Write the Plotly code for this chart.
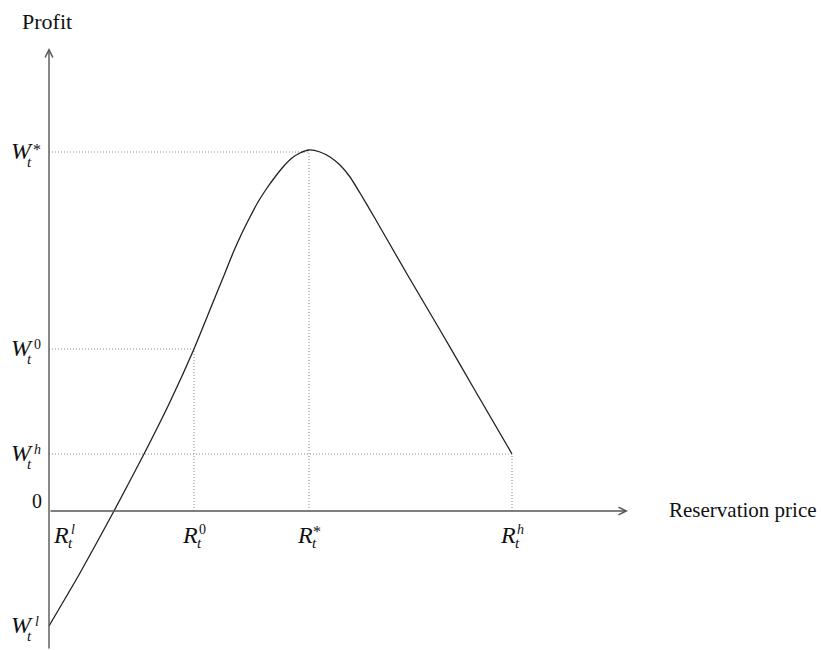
import plotly.graph_objects as go

# ---- data (arbitrary units) ----
curve_x = [0, 31, 65, 95, 120, 145, 169, 176, 184, 193, 201, 209, 218, 226, 234, 243, 251, 260,
           271, 281, 291, 301, 311, 324, 358, 391, 424, 463]
curve_y = [-115, -62, 0, 57, 107, 162, 221, 238, 258, 278, 294, 309, 323, 334, 344, 353, 358, 361,
           359, 354, 346, 334, 318, 296, 237, 181, 124, 57]

# marked reservation prices and profits
R_names = ["l", "0", "*", "h"]
R_vals = [0, 145, 260, 463]
W_names = ["*", "0", "h", "l"]
W_vals = [359, 162, 57, -115]

# guide pairs (R, W) drawn as dotted lines
guide_R = [145, 260, 463]
guide_W = [162, 359, 57]

x_axis_end = 579
y_axis_bottom, y_axis_top = -139, 463

FONT = "Liberation Serif"
AX_COL = "#555555"
CURVE_COL = "#222222"
DOT_COL = "#8a8a8a"

fig = go.Figure()

# dotted guides
for r, w in zip(guide_R, guide_W):
    fig.add_trace(go.Scatter(x=[0, r], y=[w, w], mode="lines",
                             line=dict(color=DOT_COL, width=1, dash="1px,2px"),
                             hoverinfo="skip", showlegend=False))
    fig.add_trace(go.Scatter(x=[r, r], y=[0, w], mode="lines",
                             line=dict(color=DOT_COL, width=1, dash="1px,2px"),
                             hoverinfo="skip", showlegend=False))

# profit curve
fig.add_trace(go.Scatter(x=curve_x, y=curve_y, mode="lines",
                         line=dict(color=CURVE_COL, width=1.3, shape="spline", smoothing=0.6),
                         hoverinfo="skip", showlegend=False))

ann = []
# axes with arrows
ann.append(dict(x=0, y=y_axis_top, ax=0, ay=y_axis_bottom, xref="x", yref="y",
                axref="x", ayref="y", text="", showarrow=True, arrowhead=5,
                arrowsize=1.1, arrowwidth=1.4, arrowcolor=AX_COL))
ann.append(dict(x=x_axis_end, y=0, ax=0, ay=0, xref="x", yref="y",
                axref="x", ayref="y", text="", showarrow=True, arrowhead=5,
                arrowsize=1.1, arrowwidth=1.4, arrowcolor=AX_COL))

def txt(x, y, t, size, xs=0, ys=0, xanchor="center", italic=False):
    s = f"<i>{t}</i>" if italic else t
    ann.append(dict(x=x, y=y, xref="x", yref="y", text=s, showarrow=False,
                    xanchor=xanchor, yanchor="middle", xshift=xs, yshift=ys,
                    font=dict(family=FONT, size=size, color="#111111")))

# W labels on the profit axis
for n, w in zip(W_names, W_vals):
    txt(0, w, "W", 24, xs=-27, ys=1, italic=True)
    txt(0, w, "t", 15, xs=-20, ys=-10, italic=True)
    txt(0, w, n, 14 if n != "*" else 16, xs=-12, ys=5 if n != "*" else 3, italic=(n in "lh"))

# R labels under the price axis
for n, r in zip(R_names, R_vals):
    off = 16 if r == R_vals[0] else 0
    txt(r, 0, "R", 24, xs=off - 4, ys=-24, italic=True)
    txt(r, 0, "t", 15, xs=off + 5, ys=-32, italic=True)
    txt(r, 0, n, 14 if n != "*" else 16, xs=off + 8, ys=-18 if n != "*" else -20, italic=(n in "lh"))

txt(0, 0, "0", 20, xs=-12, ys=10)
txt(0, y_axis_top, "Profit", 22, xs=-2, ys=27)
txt(x_axis_end, 0, "Reservation price", 21, xs=39, ys=1, xanchor="left")

fig.update_layout(
    width=822, height=650,
    margin=dict(l=0, r=0, t=0, b=0),
    paper_bgcolor="white", plot_bgcolor="white",
    xaxis=dict(range=[-49, 773], visible=False, fixedrange=True),
    yaxis=dict(range=[-139, 511], visible=False, fixedrange=True),
    annotations=ann,
    showlegend=False,
)

fig.write_html("out.html", config={"displayModeBar": False},
               post_script="document.body.style.margin='0px';document.body.style.overflow='hidden';")
